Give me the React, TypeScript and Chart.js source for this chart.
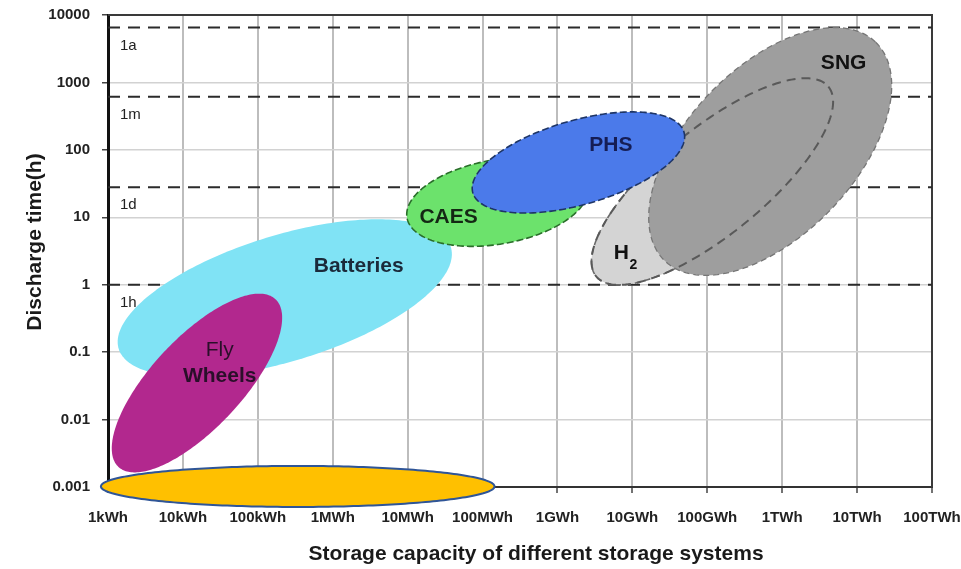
import React, { useEffect, useRef } from 'react';
import { Chart, registerables } from 'chart.js';

Chart.register(...registerables);

// Axis decades: storage capacity (kWh) and discharge time (h)
const capacityTicks = [1, 10, 100, 1e3, 1e4, 1e5, 1e6, 1e7, 1e8, 1e9, 1e10, 1e11];
const capacityTickLabels = ['1kWh', '10kWh', '100kWh', '1MWh', '10MWh', '100MWh', '1GWh', '10GWh', '100GWh', '1TWh', '10TWh', '100TWh'];
const hourTicks = [0.001, 0.01, 0.1, 1, 10, 100, 1000, 10000];
const hourTickLabels = ['0.001', '0.01', '0.1', '1', '10', '100', '1000', '10000'];

// Reference durations (hour, day, month, year)
const durationNames = ['1h', '1d', '1m', '1a'];
const durationHours = [1, 28, 615, 6500];

// Storage systems: each region is an ellipse in log-log space given by its centre,
// the end of one semi-axis and the end of the other semi-axis (kWh, h)
const systemNames = ['Batteries', 'Fly Wheels', 'CAES', 'PHS', 'H2', 'SNG'];
const centreKWh = [229, 15.4, 1.585e5, 1.905e6, 1.167e8, 6.92e8];
const centreHours = [0.635, 0.0348, 16.9, 65, 33.9, 94.6];
const majorEndKWh = [3.776e4, 172, 2.56e6, 4.89e7, 4.14e9, 1.77e10];
const majorEndHours = [3.6, 0.61, 29.1, 182.8, 865, 3953];
const minorEndKWh = [403, 42.6, 1.982e5, 2.72e6, 3.26e8, 4.42e9];
const minorEndHours = [0.0813, 0.0121, 4.1, 16.3, 8.34, 12.9];
const labelKWh = [2221, 31, 35200, 5.17e6, 7.13e6, 6.61e9];
const labelHours = [1.85, 0.069, 10.2, 118, 2.95, 1923];

// Highlighted band along the short-duration end: centre, semi-axis ends
const highlightKWh = [341, 1.445e5, 341];
const highlightHours = [0.00102, 0.00102, 0.000506];

// Styles
const FONT = '"Liberation Sans", Arial, Helvetica, sans-serif';
const systemFill = ['#80e3f5', '#b2288e', '#6ce26c', '#4b7aea', '#d4d4d4', '#9e9e9e'];
const systemStroke = [null, null, '#2a6e2a', '#1e3566', '#6a6a6a', '#767676'];
const systemLabelColor = ['#1b2a3a', '#2a0f2a', '#142814', '#151d55', '#111111', '#111111'];
const drawOrder = [0, 1, 2, 4, 5, 3];

type Pt = { x: number; y: number };

function traceEllipse(ctx: CanvasRenderingContext2D, c: Pt, a: Pt, b: Pt) {
  const px = a.x - c.x, py = a.y - c.y;
  const qx = b.x - c.x, qy = b.y - c.y;
  const n = 240;
  ctx.beginPath();
  for (let k = 0; k <= n; k++) {
    const t = (k / n) * Math.PI * 2;
    const x = c.x + px * Math.cos(t) + qx * Math.sin(t);
    const y = c.y + py * Math.cos(t) + qy * Math.sin(t);
    if (k === 0) ctx.moveTo(x, y);
    else ctx.lineTo(x, y);
  }
  ctx.closePath();
}

const storagePlugin = {
  id: 'storageMap',
  beforeDatasetsDraw(chart: any) {
    const { ctx, chartArea: area, scales } = chart;
    const y = scales.y;
    ctx.save();
    // frame on the top and right sides
    ctx.strokeStyle = '#3a3a3a';
    ctx.lineWidth = 2;
    ctx.beginPath();
    ctx.moveTo(area.left, area.top);
    ctx.lineTo(area.right, area.top);
    ctx.lineTo(area.right, area.bottom);
    ctx.stroke();
    // reference duration lines
    ctx.setLineDash([12, 8]);
    ctx.strokeStyle = '#2b2b2b';
    ctx.lineWidth = 2;
    durationHours.forEach((h) => {
      const yy = y.getPixelForValue(h);
      ctx.beginPath();
      ctx.moveTo(area.left, yy);
      ctx.lineTo(area.right, yy);
      ctx.stroke();
    });
    ctx.setLineDash([]);
    ctx.font = `15px ${FONT}`;
    ctx.fillStyle = '#222';
    ctx.textBaseline = 'middle';
    ctx.textAlign = 'left';
    durationNames.forEach((name, i) => {
      ctx.fillText(name, area.left + 12, y.getPixelForValue(durationHours[i]) + 18);
    });
    ctx.restore();
  },
  afterDatasetsDraw(chart: any) {
    const { ctx, scales } = chart;
    const x = scales.x, y = scales.y;
    const pt = (kwh: number, h: number): Pt => ({ x: x.getPixelForValue(kwh), y: y.getPixelForValue(h) });
    const geom = (i: number) => [
      pt(centreKWh[i], centreHours[i]),
      pt(majorEndKWh[i], majorEndHours[i]),
      pt(minorEndKWh[i], minorEndHours[i]),
    ] as [Pt, Pt, Pt];
    ctx.save();
    const h2 = systemNames.indexOf('H2');
    drawOrder.forEach((i) => {
      const [c, a, b] = geom(i);
      traceEllipse(ctx, c, a, b);
      ctx.fillStyle = systemFill[i];
      ctx.fill();
      const stroke = systemStroke[i];
      if (stroke) {
        ctx.strokeStyle = stroke;
        ctx.lineWidth = i === 5 ? 1.3 : 1.6;
        ctx.setLineDash(i >= 4 ? [6, 4] : [7, 3]);
        ctx.stroke();
        ctx.setLineDash([]);
      }
      // hydrogen outline stays visible through the SNG region
      if (systemNames[i] === 'SNG') {
        const [hc, ha, hb] = geom(h2);
        traceEllipse(ctx, hc, ha, hb);
        ctx.strokeStyle = '#595959';
        ctx.lineWidth = 2;
        ctx.setLineDash([9, 6]);
        ctx.stroke();
        ctx.setLineDash([]);
      }
    });

    // region labels
    ctx.textAlign = 'center';
    ctx.textBaseline = 'middle';
    systemNames.forEach((name, i) => {
      const p = pt(labelKWh[i], labelHours[i]);
      ctx.fillStyle = systemLabelColor[i];
      if (name === 'Fly Wheels') {
        const [l1, l2] = name.split(' ');
        ctx.font = `21px ${FONT}`;
        ctx.fillText(l1, p.x, p.y - 13);
        ctx.font = `bold 21px ${FONT}`;
        ctx.fillText(l2, p.x, p.y + 13);
      } else if (name === 'H2') {
        ctx.font = `bold 21px ${FONT}`;
        const w = ctx.measureText('H').width;
        ctx.fillText('H', p.x, p.y);
        ctx.font = `bold 14px ${FONT}`;
        ctx.textAlign = 'left';
        ctx.fillText('2', p.x + w / 2 + 0.5, p.y + 12);
        ctx.textAlign = 'center';
      } else {
        ctx.font = `bold 21px ${FONT}`;
        ctx.fillText(name, p.x, p.y);
      }
    });
    ctx.restore();
  },
  afterDraw(chart: any) {
    const { ctx, chartArea: area, scales } = chart;
    const x = scales.x, y = scales.y;
    ctx.save();
    // highlighted band
    const c = { x: x.getPixelForValue(highlightKWh[0]), y: y.getPixelForValue(highlightHours[0]) };
    const a = { x: x.getPixelForValue(highlightKWh[1]), y: y.getPixelForValue(highlightHours[1]) };
    const b = { x: x.getPixelForValue(highlightKWh[2]), y: y.getPixelForValue(highlightHours[2]) };
    traceEllipse(ctx, c, a, b);
    ctx.fillStyle = '#ffc000';
    ctx.fill();
    ctx.strokeStyle = '#2f5597';
    ctx.lineWidth = 2;
    ctx.stroke();

    // axis titles
    ctx.fillStyle = '#1a1a1a';
    ctx.font = `bold 21px ${FONT}`;
    ctx.textAlign = 'center';
    ctx.textBaseline = 'middle';
    ctx.fillText('Storage capacity of different storage systems', (area.left + area.right) / 2 + 16, area.bottom + 67);
    ctx.translate(area.left - 73, (area.top + area.bottom) / 2 - 9);
    ctx.rotate(-Math.PI / 2);
    ctx.fillText('Discharge time(h)', 0, 0);
    ctx.restore();
  },
};

export default function App() {
  const canvasRef = useRef<HTMLCanvasElement | null>(null);

  useEffect(() => {
    document.body.style.margin = '0';
    const canvas = canvasRef.current;
    if (!canvas) return;
    const chart = new Chart(canvas, {
      type: 'scatter',
      data: {
        datasets: [
          {
            label: 'Storage systems',
            data: centreKWh.map((v, i) => ({ x: v, y: centreHours[i] })),
            pointRadius: 0,
            pointHoverRadius: 0,
          },
        ],
      },
      options: {
        responsive: false,
        maintainAspectRatio: false,
        animation: false,
        devicePixelRatio: 1,
        layout: { padding: { left: 0, top: 15, right: 29, bottom: 0 } },
        plugins: { legend: { display: false }, tooltip: { enabled: false } },
        events: [],
        scales: {
          x: {
            type: 'logarithmic',
            position: 'bottom',
            min: 1,
            max: 1e11,
            afterBuildTicks: (scale: any) => {
              scale.ticks = capacityTicks.map((value) => ({ value }));
            },
            afterFit: (scale: any) => {
              scale.height = 82;
              scale.paddingLeft = 0;
              scale.paddingRight = 0;
            },
            ticks: {
              autoSkip: false,
              maxRotation: 0,
              minRotation: 0,
              padding: 16,
              color: '#222',
              font: { family: FONT, size: 15, weight: 'bold' },
              callback: (_v: any, i: number) => capacityTickLabels[i],
            },
            grid: { color: '#bdbdbd', lineWidth: 2, tickLength: 6, tickColor: '#444', tickWidth: 1.5 },
            border: { color: '#333', width: 2 },
          },
          y: {
            type: 'logarithmic',
            position: 'left',
            min: 0.001,
            max: 10000,
            afterBuildTicks: (scale: any) => {
              scale.ticks = hourTicks.map((value) => ({ value }));
            },
            afterFit: (scale: any) => {
              scale.width = 108;
              scale.paddingTop = 0;
              scale.paddingBottom = 0;
            },
            ticks: {
              autoSkip: false,
              padding: 12,
              color: '#222',
              font: { family: FONT, size: 15, weight: 'bold' },
              callback: (_v: any, i: number) => hourTickLabels[i],
            },
            grid: { color: '#d2d2d2', lineWidth: 1.5, tickLength: 6, tickColor: '#444', tickWidth: 1.5 },
            border: { color: '#111', width: 3 },
          },
        },
      },
      plugins: [storagePlugin],
    } as any);
    return () => chart.destroy();
  }, []);

  return (
    <div style={{ width: 961, height: 569, background: '#fff' }}>
      <canvas ref={canvasRef} width={961} height={569} style={{ display: 'block' }} />
    </div>
  );
}
